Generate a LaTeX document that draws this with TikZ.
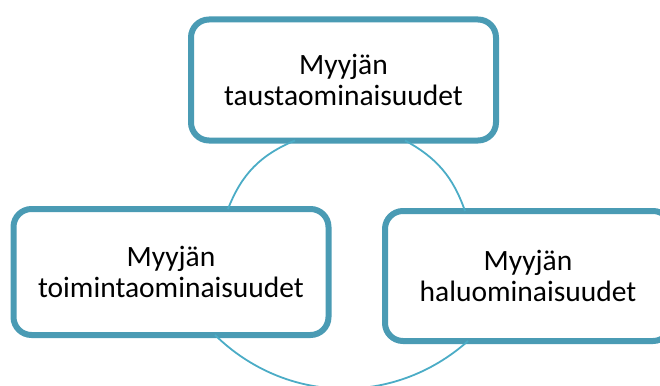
\documentclass[tikz,border=0pt]{standalone}
\usepackage{fontspec}
\setmainfont{Carlito}
\usepackage{xcolor}
\definecolor{boxteal}{HTML}{4A9BB4}
\definecolor{arcteal}{HTML}{4BACC6}
\tikzset{ominaisuus/.style={draw=boxteal,line width=6pt,fill=white,
    rounded corners=18pt,align=center,outer sep=0pt,inner sep=0pt,
    font=\fontsize{29.5}{31}\selectfont},
    kaari/.style={draw=arcteal,line width=1.8pt},
    x=1pt,y=-1pt}

\begin{document}
\begin{tikzpicture}
\path[use as bounding box,clip] (0,0) rectangle (660,385);
\node[ominaisuus,minimum width=305pt,minimum height=121pt] (tausta) at (343.5,80)
    {Myyjän\\taustaominaisuudet};
\node[ominaisuus,minimum width=315pt,minimum height=126pt] (toiminta) at (171,272)
    {Myyjän\\toimintaominaisuudet};
\node[ominaisuus,minimum width=286pt,minimum height=130pt] (halu) at (528,276)
    {Myyjän\\haluominaisuudet};
% kaaret laatikoiden välillä
\draw[kaari] ([xshift=-48.5pt]tausta.south) to[bend right=23] ([xshift=57pt]toiminta.north);
\draw[kaari] ([xshift=61.5pt]tausta.south) to[bend left=21] ([xshift=-63pt]halu.north);
\draw[kaari] ([xshift=44pt]toiminta.south) to[bend right=43] ([xshift=-60pt]halu.south);
\end{tikzpicture}
\end{document}
